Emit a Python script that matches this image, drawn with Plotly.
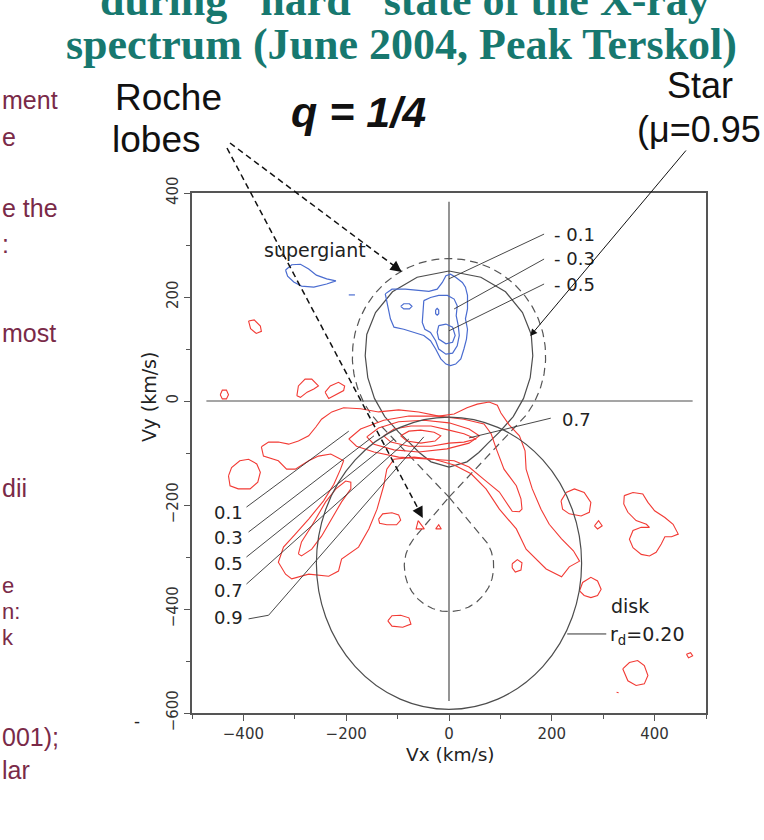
import numpy as np
import plotly.graph_objects as go

W, H = 764, 840

def px(x):
    return x / W

def py(y):
    return 1 - y / H

# ---------------- data ----------------
x_tick_vals = [-400, -200, 0, 200, 400]
y_tick_vals = [-600, -400, -200, 0, 200, 400]

# Roche-lobe model parameters: centre x, centre y, radius, apex y (km/s)
star_roche = [0, 86, 188, -185]
compact_roche = [0, -318, 87, -185]
# accretion disk outer edge (x0, x1, y0, y1)
disk_edge = [-258, 258, -593, -31]
# star (mu = 0.95) right half profile
star_half_x = [0, 62, 110, 143, 160, 163, 158, 145, 125, 98, 76, 58, 35, 0]
star_half_y = [250, 238, 210, 170, 128, 87, 45, 5, -30, -60, -81, -99, -117, -127]

# blue (negative) contours
blue_sg_x = [-318, -306, -289, -273, -258, -238, -220, -238, -263, -287, -302, -314, -318]
blue_sg_y = [252, 262, 263, 254, 242, 235, 231, 225, 219, 221, 229, 240, 252]
blue_dot_x = [-195, -183]
blue_dot_y = [204, 204]
blue_01_x = [-124, -111, -85, -59, -39, -23, -13, -6, 3, 13, 26, 32, 36, 36, 32, 36, 34, 29, 23, 13, 3,
             -6, -16, -26, -36, -49, -68, -88, -107, -114, -118, -122, -124]
blue_01_y = [206, 215, 215, 212, 211, 215, 228, 241, 244, 238, 228, 219, 203, 177, 158, 138, 119, 100, 81,
             71, 68, 71, 81, 100, 116, 126, 132, 138, 142, 158, 177, 196, 206]
blue_01b_x = [-94, -88, -77, -72, -77, -88, -94]
blue_01b_y = [182, 187, 187, 182, 177, 177, 182]
blue_03_x = [-49, -36, -20, -3, 10, 16, 14, 18, 20, 16, 7, -6, -20, -26, -36, -47, -52, -50, -49]
blue_03_y = [193, 199, 203, 203, 196, 183, 164, 145, 126, 106, 92, 90, 100, 116, 132, 138, 151, 171, 193]
blue_03b_x = [-26, -23, -20, -20, -23, -26, -26]
blue_03b_y = [175, 178, 175, 168, 165, 168, 175]
blue_05_x = [-20, -6, 7, 12, 7, -6, -20, -23, -20]
blue_05_y = [145, 148, 142, 126, 113, 110, 119, 132, 145]

# red (positive) contours
red_01_x = [-365, -351, -332, -312, -293, -273, -259, -248, -228, -205, -172, -137, -98, -59, -20, 10, 35,
            55, 78, 94, 101, 117, 137, 148, 150, 162, 179, 195, 219, 242, 254, 234, 219, 189, 150, 131,
            98, 72, 43, 10, -29, -68, -107, -121, -127, -140, -156, -176, -209, -215, -234, -273, -306,
            -318, -332, -322, -299, -273, -244, -224, -211, -205, -230, -254, -273, -299, -316, -332,
            -361, -365]
red_01_y = [-88, -79, -79, -83, -77, -67, -50, -35, -21, -13, -15, -21, -17, -21, -29, -25, -13, -6, -2,
            -8, -23, -46, -67, -96, -131, -169, -208, -237, -265, -288, -308, -319, -338, -323, -285,
            -246, -208, -169, -140, -123, -112, -108, -112, -131, -163, -208, -246, -281, -304, -327,
            -337, -333, -342, -333, -310, -281, -256, -227, -192, -160, -131, -115, -102, -106, -115,
            -131, -131, -115, -106, -88]
red_03_x = [-195, -172, -127, -78, -20, 29, 68, 82, 92, 107, 131, 140, 142, 137, 123, 111, 98, 72, 59, 39,
            10, -39, -98, -146, -180, -195]
red_03_y = [-73, -54, -37, -29, -29, -35, -44, -63, -92, -131, -163, -188, -208, -213, -212, -194, -175,
            -154, -144, -127, -115, -112, -108, -98, -87, -73]
red_03_arm_x = [-293, -287, -267, -240, -220, -201, -191, -191, -209, -228, -248, -267, -287, -293]
red_03_arm_y = [-294, -271, -240, -194, -169, -154, -156, -169, -194, -227, -260, -285, -298, -294]
red_05_x = [-160, -137, -98, -49, 0, 39, 59, 39, -4, -59, -107, -146, -160]
red_05_y = [-69, -52, -40, -37, -42, -54, -67, -81, -92, -98, -94, -83, -69]
red_07_x = [-127, -107, -74, -35, 0, 29, 53, 29, 0, -35, -78, -113, -127]
red_07_y = [-67, -54, -48, -48, -56, -63, -73, -79, -81, -87, -87, -79, -67]
red_09_x = [-94, -78, -55, -29, -16, -27, -55, -82, -94]
red_09_y = [-67, -58, -56, -60, -67, -77, -81, -77, -67]

red_blob_a_x = [-390, -379, -367, -365, -375, -386, -390]
red_blob_a_y = [154, 156, 144, 134, 130, 139, 154]
red_blob_b_x = [-445, -441, -433, -429, -433, -441, -445]
red_blob_b_y = [12, 21, 21, 12, 4, 4, 12]
red_blob_c_x = [-296, -293, -280, -267, -254, -263, -276, -289, -296]
red_blob_c_y = [10, 29, 42, 42, 29, 23, 17, 7, 10]
red_blob_d_x = [-241, -231, -215, -203, -205, -218, -234, -241]
red_blob_d_y = [17, 29, 36, 29, 20, 13, 5, 17]
red_blob_g_x = [-429, -423, -407, -390, -374, -367, -372, -387, -410, -426, -429]
red_blob_g_y = [-144, -128, -115, -112, -121, -137, -156, -169, -169, -163, -144]
red_blob_h_x = [-137, -129, -111, -98, -94, -102, -121, -135, -137]
red_blob_h_y = [-227, -217, -215, -219, -229, -238, -238, -235, -227]
red_tri1_x = [-60, -64, -48, -60]
red_tri1_y = [-230, -246, -246, -230]
red_tri2_x = [-26, -20, -15, -26]
red_tri2_y = [-246, -238, -246, -246]
red_blob_j_x = [-119, -111, -94, -78, -74, -90, -111, -119]
red_blob_j_y = [-423, -413, -412, -417, -429, -435, -433, -423]
red_blob_k1_x = [218, 228, 244, 263, 276, 273, 257, 234, 221, 218]
red_blob_k1_y = [-192, -176, -169, -176, -195, -214, -221, -217, -208, -192]
red_blob_k2_x = [283, 291, 298, 289, 283]
red_blob_k2_y = [-240, -230, -240, -246, -240]
red_blob_k3_x = [341, 358, 377, 387, 400, 420, 436, 446, 433, 420, 413, 403, 390, 374, 358, 351, 358, 374,
                 390, 384, 364, 348, 340, 341]
red_blob_k3_y = [-182, -176, -179, -195, -211, -224, -237, -256, -261, -261, -275, -291, -298, -295, -282,
                 -266, -249, -243, -243, -237, -230, -214, -198, -182]
red_blob_k4_x = [254, 260, 276, 289, 296, 289, 276, 263, 254]
red_blob_k4_y = [-365, -349, -339, -346, -362, -374, -378, -374, -365]
red_blob_k5_x = [462, 470, 474, 466, 462]
red_blob_k5_y = [-487, -484, -490, -494, -487]
red_blob_k6_x = [338, 351, 367, 380, 387, 380, 364, 348, 338]
red_blob_k6_y = [-515, -503, -499, -509, -528, -544, -547, -538, -515]
red_blob_k7_x = [326, 330]
red_blob_k7_y = [-560, -561]
red_blob_k8_x = [123, 133, 142, 140, 129, 123, 123]
red_blob_k8_y = [-313, -305, -311, -325, -329, -321, -313]

# leader lines (km/s)
lead_blue_x = [[185, 0], [185, 10], [185, 0]]
lead_blue_y = [[321, 235], [273, 177], [225, 135]]
lead_red_x = [[-394, -195], [-390, -146], [-394, -107], [-394, -78], [-390, -351, -49]]
lead_red_y = [[-204, -58], [-252, -67], [-300, -73], [-352, -73], [-419, -412, -69]]
lead_07_x = [198, 39]
lead_07_y = [-33, -71]
lead_disk_x = [230, 306]
lead_disk_y = [-448, -448]
cross_v = [[0, 0], [383, -577]]
cross_h = [[-472, 474], [0, 0]]

blue_labels = ["- 0.1", "- 0.3", "- 0.5"]
red_labels = ["0.1", "0.3", "0.5", "0.7", "0.9"]

# ---------------- styles ----------------
RED = "#f23a34"
BLUE = "#4a6cd0"
GRAY = "#4d4d4d"
FONT = "DejaVu Sans"

fig = go.Figure()

def add_line(xs, ys, color, width=1.2, dash=None):
    fig.add_trace(go.Scatter(x=xs, y=ys, mode="lines", hoverinfo="skip", showlegend=False,
                             line=dict(color=color, width=width, dash=dash)))

# axes cross
add_line(cross_v[0], cross_v[1], GRAY, 1.2)
add_line(cross_h[0], cross_h[1], GRAY, 1.2)

# Roche lobes (dashed)
def teardrop(p):
    cx, cy, r, apex = p
    d = abs(cy - apex)
    a = np.arcsin(r / d)
    if apex < cy:
        th = np.linspace(-a, np.pi + a, 160)
    else:
        th = np.linspace(a, -np.pi - a, 160)
    xs = [cx] + list(cx + r * np.cos(th)) + [cx]
    ys = [apex] + list(cy + r * np.sin(th)) + [apex]
    return xs, ys

for p in (star_roche, compact_roche):
    xs, ys = teardrop(p)
    add_line(xs, ys, "#555555", 1.2, "8px,5px")

# star mu=0.95 (solid)
sx = star_half_x + [-v for v in star_half_x[::-1]]
sy = star_half_y + star_half_y[::-1]
add_line(sx, sy, GRAY, 1.2)

# disk
fig.add_shape(type="circle", xref="x", yref="y", x0=disk_edge[0], x1=disk_edge[1],
              y0=disk_edge[2], y1=disk_edge[3], line=dict(color=GRAY, width=1.2))

# contours
for xs, ys in [(blue_sg_x, blue_sg_y), (blue_dot_x, blue_dot_y), (blue_01_x, blue_01_y),
               (blue_01b_x, blue_01b_y), (blue_03_x, blue_03_y), (blue_03b_x, blue_03b_y),
               (blue_05_x, blue_05_y)]:
    add_line(xs, ys, BLUE, 1.2)

for xs, ys in [(red_01_x, red_01_y), (red_03_x, red_03_y), (red_03_arm_x, red_03_arm_y),
               (red_05_x, red_05_y), (red_07_x, red_07_y), (red_09_x, red_09_y),
               (red_blob_a_x, red_blob_a_y), (red_blob_b_x, red_blob_b_y),
               (red_blob_c_x, red_blob_c_y), (red_blob_d_x, red_blob_d_y),
               (red_blob_g_x, red_blob_g_y), (red_blob_h_x, red_blob_h_y),
               (red_tri1_x, red_tri1_y), (red_tri2_x, red_tri2_y),
               (red_blob_j_x, red_blob_j_y), (red_blob_k1_x, red_blob_k1_y),
               (red_blob_k2_x, red_blob_k2_y), (red_blob_k3_x, red_blob_k3_y),
               (red_blob_k4_x, red_blob_k4_y), (red_blob_k5_x, red_blob_k5_y),
               (red_blob_k6_x, red_blob_k6_y), (red_blob_k7_x, red_blob_k7_y),
               (red_blob_k8_x, red_blob_k8_y)]:
    add_line(xs, ys, RED, 1.1)

# leader lines
for xs, ys in zip(lead_blue_x, lead_blue_y):
    add_line(xs, ys, "#333333", 0.9)
for xs, ys in zip(lead_red_x, lead_red_y):
    add_line(xs, ys, "#333333", 0.9)
add_line(lead_07_x, lead_07_y, "#333333", 0.9)
add_line(lead_disk_x, lead_disk_y, "#333333", 1.0)

ann = []

def text(t, x, y, size, color="#222222", family=FONT, xanchor="left", yanchor="middle",
         angle=0, bold=False):
    ann.append(dict(text=("<b>%s</b>" % t) if bold else t, x=px(x), y=py(y), xref="paper",
                    yref="paper", showarrow=False, xanchor=xanchor, yanchor=yanchor,
                    textangle=angle, font=dict(size=size, color=color, family=family)))

# labels on the plot
for lab, yy in zip(blue_labels, [234, 258, 284]):
    text(lab, 552, yy, 18)
for lab, yy in zip(red_labels, [512, 537, 563, 590, 617]):
    text(lab, 212, yy, 18)
text("0.7", 560, 419, 18)
text("supergiant", 262, 250, 19)
text("disk", 609, 606, 19)
text("r<sub>d</sub>=0.20", 608, 635, 19)

# axis titles
text("Vx (km/s)", 450, 754, 18.5, xanchor="center")
text("Vy (km/s)", 149, 397, 19, xanchor="center", angle=-90)

# header texts
TEAL = "#17786f"
text("during \u201chard\u201d state of the X-ray", 405, 1, 44, TEAL, "Liberation Serif",
     xanchor="center", bold=True)
text("spectrum (June 2004, Peak Terskol)", 401, 44, 44, TEAL, "Liberation Serif",
     xanchor="center", bold=True)
text("Roche", 113, 97, 37, "#111111", "Liberation Sans")
text("lobes", 110, 140, 37, "#111111", "Liberation Sans")
text("<i><b>q = 1/4</b></i>", 289, 112, 43, "#111111", "Liberation Sans")
text("Star", 665, 86, 36, "#111111", "Liberation Sans")
text("(\u03bc=0.95", 635, 129, 36, "#111111", "Liberation Sans")

# left-side slide text fragments
MAROON = "#7a2a48"
for t, yy, sz in [("ment", 100, 25), ("e", 137, 25), ("e the", 208, 25), (":", 244, 25),
                  ("most", 333, 25), ("dii", 488, 25), ("e", 585, 22), ("n:", 611, 22),
                  ("k", 637, 22), ("001);", 737, 25), ("lar", 770, 25)]:
    text(t, 0, yy, sz, MAROON, "Liberation Sans", xanchor="left")
text("-", 137, 722, 18, "#222222", "Liberation Sans", xanchor="center")

# arrows
ann.append(dict(x=158, y=125, xref="x", yref="y", ax=157, ay=-187, axref="pixel", ayref="pixel",
                text="", showarrow=True, arrowhead=2, arrowsize=1.4, arrowwidth=1,
                arrowcolor="#111111"))
for tip, off in [((-92, 248), (-10, -7.5)), ((-51, -225), (-5.6, -10.6))]:
    ann.append(dict(x=tip[0], y=tip[1], xref="x", yref="y", ax=off[0], ay=off[1],
                    text="", showarrow=True, arrowhead=2, arrowsize=1.6, arrowwidth=1.4,
                    arrowcolor="#111111"))

shapes_dash = [((230, 143), (401, 271)), ((227, 148), (422, 516))]
for (xa, ya), (xb, yb) in shapes_dash:
    fig.add_shape(type="line", xref="paper", yref="paper", x0=px(xa), y0=py(ya), x1=px(xb),
                  y1=py(yb), line=dict(color="#111111", width=1.5, dash="6px,4px"))

axis_common = dict(showline=True, mirror=True, linecolor="#555555", linewidth=1.6,
                   ticks="outside", ticklen=6, tickwidth=1.2, tickcolor="#555555",
                   showgrid=False, zeroline=False, automargin=False,
                   tickfont=dict(family=FONT, size=15, color="#333333"),
                   minor=dict(ticks="outside", ticklen=4, tickwidth=1, tickcolor="#555555",
                              dtick=100, showgrid=False))

fig.update_layout(
    width=W, height=H, autosize=False,
    margin=dict(l=0, r=0, t=0, b=0, pad=0, autoexpand=False),
    paper_bgcolor="white", plot_bgcolor="white",
    xaxis=dict(domain=[px(192), px(706)], range=[-500, 500], tickvals=x_tick_vals, **axis_common),
    yaxis=dict(domain=[py(713), py(193)], range=[-600, 400], tickvals=y_tick_vals,
               tickangle=-90, **axis_common),
    annotations=ann,
    showlegend=False,
)

fig.write_html("out.html")
